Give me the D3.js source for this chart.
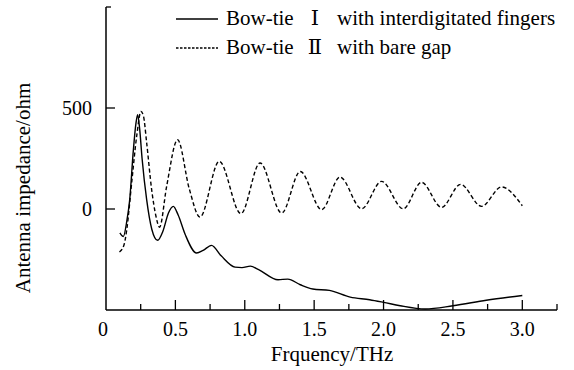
<!DOCTYPE html>
<html>
<head>
<meta charset="utf-8">
<script src="https://cdn.jsdelivr.net/npm/d3@7"></script>
<style>
  body { margin: 0; background: #fff; }
  svg text { font-family: 'Liberation Serif', 'Times New Roman', Times, 'DejaVu Serif', serif; fill: #000; }
  .curve { fill: none; stroke: #000; stroke-width: 1.4; }
</style>
</head>
<body>
<div id="chart"></div>
<script>
// bow-tie I (interdigitated fingers), [THz, ohm]
var bowtie1 = [[0.10,-118],[0.125,-136],[0.15,-60],[0.17,40],[0.197,290],[0.216,425],[0.228,467],
  [0.242,400],[0.26,250],[0.293,46],[0.33,-100],[0.372,-155],[0.41,-110],[0.45,-20],[0.485,13],
  [0.52,-30],[0.57,-125],[0.653,-218],[0.70,-205],[0.76,-180],[0.83,-232],[0.93,-288],[0.98,-290],
  [1.04,-283],[1.10,-300],[1.24,-350],[1.31,-347],[1.40,-375],[1.49,-396],[1.61,-403],[1.76,-436],
  [1.90,-449],[2.0,-462],[2.12,-479],[2.30,-495],[2.50,-479],[2.74,-452],[3.0,-428]];

// bow-tie II (bare gap)
var bowtie2 = [[0.097,-213],[0.13,-177],[0.15,-100],[0.185,130],[0.221,360],[0.252,483],[0.27,460],
  [0.293,328],[0.329,96],[0.36,-36],[0.386,-90],[0.437,112],[0.516,343],[0.60,100],[0.677,-40],
  [0.816,236],[0.972,-23],[1.11,228],[1.266,-20],[1.40,186],[1.554,-3],[1.686,158],[1.842,1],
  [1.986,137],[2.142,1],[2.274,132],[2.418,8],[2.555,122],[2.706,13],[2.85,109],[3.0,16]];

var xMajor = [0, 0.5, 1.0, 1.5, 2.0, 2.5, 3.0];
var xMinor = [0.25, 0.75, 1.25, 1.75, 2.25, 2.75, 3.25];
var xLabels = ["0", "0.5", "1.0", "1.5", "2.0", "2.5", "3.0"];
var yTicks = [0, 500];
var yLabels = ["0", "500"];
var legendNames = [["Bow-tie", "\u2160", "with interdigitated fingers"], ["Bow-tie", "\u2161", "with bare gap"]];

var serif = "'Liberation Serif', 'Times New Roman', Times, 'DejaVu Serif', serif";
var margin = { top: 7, left: 106 };
var width = 451, height = 303;

var svg = d3.select("#chart").append("svg")
  .attr("width", 574).attr("height", 370)
  .attr("font-family", serif);
var g = svg.append("g")
  .attr("transform", "translate(" + margin.left + "," + margin.top + ")");

var x = d3.scaleLinear().domain([0, 3.25]).range([0, width]);
var y = d3.scaleLinear().domain([-500, 1000]).range([height, 0]);

// axes lines
g.append("line")
  .attr("x1", 0).attr("x2", 0).attr("y1", y(1000)).attr("y2", height)
  .attr("stroke", "#000").attr("stroke-width", 1.5);
g.append("line")
  .attr("x1", 0).attr("x2", x(3.25)).attr("y1", height).attr("y2", height)
  .attr("stroke", "#000").attr("stroke-width", 1.5);

// x ticks (inward)
g.selectAll(".xmaj").data(xMajor.slice(1)).enter().append("line")
  .attr("x1", function(d) { return x(d); }).attr("x2", function(d) { return x(d); })
  .attr("y1", height).attr("y2", height - 10)
  .attr("stroke", "#000").attr("stroke-width", 1.3);
g.selectAll(".xmin").data(xMinor).enter().append("line")
  .attr("x1", function(d) { return x(d); }).attr("x2", function(d) { return x(d); })
  .attr("y1", height).attr("y2", height - 6)
  .attr("stroke", "#000").attr("stroke-width", 1.3);
g.selectAll(".xlab").data(xMajor).enter().append("text")
  .attr("x", function(d, i) { return x(d) - (i == 0 ? 3 : 0); })
  .attr("y", 329)
  .attr("text-anchor", "middle")
  .style("font-size", "20px")
  .text(function(d, i) { return xLabels[i]; });

// y ticks
g.selectAll(".ytk").data(yTicks).enter().append("line")
  .attr("x1", 0).attr("x2", 9)
  .attr("y1", function(d) { return y(d); }).attr("y2", function(d) { return y(d); })
  .attr("stroke", "#000").attr("stroke-width", 1.3);
g.append("line").attr("x1", 0).attr("x2", 5).attr("y1", y(1000)).attr("y2", y(1000))
  .attr("stroke", "#000").attr("stroke-width", 1.3);
g.selectAll(".ylab").data(yTicks).enter().append("text")
  .attr("x", -14)
  .attr("y", function(d) { return y(d) + 7; })
  .attr("text-anchor", "end")
  .style("font-size", "20px")
  .text(function(d, i) { return yLabels[i]; });

// titles
svg.append("text")
  .attr("x", 332).attr("y", 361)
  .attr("text-anchor", "middle")
  .style("font-size", "21px")
  .text("Frquency/THz");
svg.append("text")
  .attr("transform", "translate(30,188) rotate(-90)")
  .attr("text-anchor", "middle")
  .style("font-size", "21px")
  .text("Antenna impedance/ohm");

// curves
var line = d3.line()
  .x(function(d) { return x(d[0]); })
  .y(function(d) { return y(d[1]); })
  .curve(d3.curveMonotoneX);

g.append("path").datum(bowtie2).attr("class", "curve")
  .attr("stroke-dasharray", "4,2.5").attr("d", line);
g.append("path").datum(bowtie1).attr("class", "curve").attr("d", line);

// legend
var leg = svg.selectAll(".leg").data(legendNames).enter().append("g")
  .attr("transform", function(d, i) { return "translate(0," + (25 + i * 29) + ")"; });
leg.append("line")
  .attr("x1", 176).attr("x2", 218).attr("y1", -6).attr("y2", -6)
  .attr("stroke", "#000").attr("stroke-width", 1.3)
  .attr("stroke-dasharray", function(d, i) { return i == 0 ? null : "2.5,1.5"; });
leg.append("text").attr("x", 226).style("font-size", "21px").text(function(d) { return d[0]; });
leg.append("text").attr("x", 315).attr("text-anchor", "middle").style("font-size", "21px").text(function(d) { return d[1]; });
leg.append("text").attr("x", 337).style("font-size", "21px").text(function(d) { return d[2]; });
</script>
</body>
</html>
